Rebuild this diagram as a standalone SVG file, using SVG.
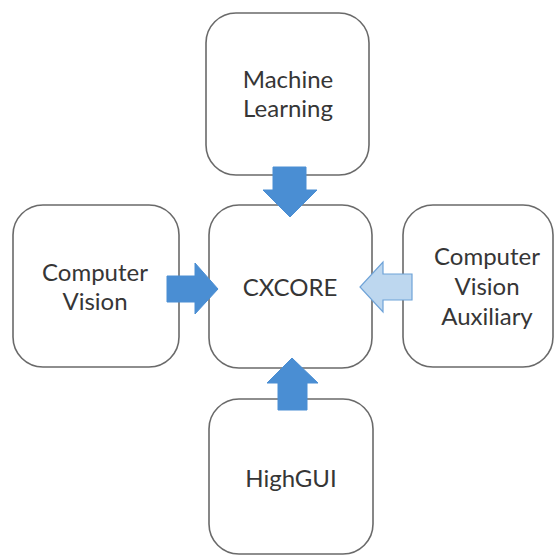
<svg xmlns="http://www.w3.org/2000/svg" width="555" height="556" viewBox="0 0 555 556">
  <style>
    .box { fill: #ffffff; stroke: #6a6a6a; stroke-width: 1.6; }
    .lbl { font-family: Lato, "Open Sans", "Liberation Sans", sans-serif; font-size: 24px; fill: #363636; text-anchor: middle; }
    .arr { fill: #4a8ed3; stroke: #4a8ed3; stroke-width: 1; }
    .arr-light { fill: #bdd7ef; stroke: #6fa3d8; stroke-width: 1.2; }
  </style>
  <rect width="555" height="556" fill="#ffffff"/>

  <g id="node-ml">
    <rect class="box" x="206" y="13" width="163" height="162" rx="30"/>
    <text class="lbl" x="288" y="88">Machine</text>
    <text class="lbl" x="288" y="117">Learning</text>
  </g>

  <g id="node-cv">
    <rect class="box" x="13" y="205" width="166" height="162" rx="30"/>
    <text class="lbl" x="95" y="281">Computer</text>
    <text class="lbl" x="95" y="310">Vision</text>
  </g>

  <g id="node-cxcore">
    <rect class="box" x="209" y="205" width="163" height="163" rx="30"/>
    <text class="lbl" x="290" y="296">CXCORE</text>
  </g>

  <g id="node-cva">
    <rect class="box" x="403" y="205" width="150" height="162" rx="30"/>
    <text class="lbl" x="487" y="265">Computer</text>
    <text class="lbl" x="487" y="295">Vision</text>
    <text class="lbl" x="487" y="325">Auxiliary</text>
  </g>

  <g id="node-highgui">
    <rect class="box" x="209" y="399" width="164" height="155" rx="30"/>
    <text class="lbl" x="291" y="487">HighGUI</text>
  </g>

  <g id="connectors">
    <!-- Machine Learning -> CXCORE -->
    <polygon class="arr" points="273,167 306,167 306,190 317,190 290,217 263,190 273,190"/>
    <!-- Computer Vision -> CXCORE -->
    <polygon class="arr" points="167,276 195,276 195,263 218,289 195,314 195,302 167,302"/>
    <!-- Computer Vision Auxiliary -> CXCORE -->
    <polygon class="arr-light" points="412,274 383,274 383,262 360,287 383,312 383,300 412,300"/>
    <!-- HighGUI -> CXCORE -->
    <polygon class="arr" points="278,410 307,410 307,383 318,383 292,358 267,383 278,383"/>
  </g>
</svg>
